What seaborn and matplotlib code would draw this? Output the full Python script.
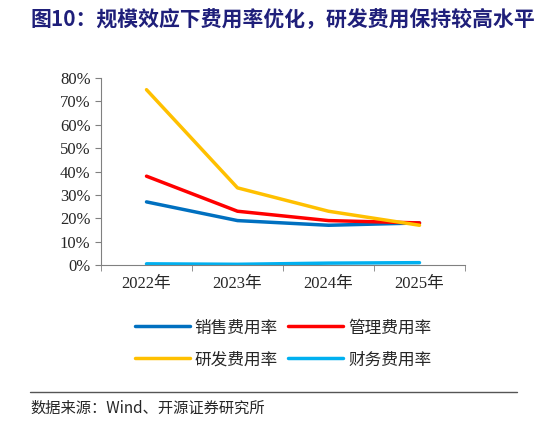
import numpy as np
import pandas as pd
import matplotlib
matplotlib.use('Agg')
import matplotlib.pyplot as plt
import seaborn as sns

years = ['2022年', '2023年', '2024年', '2025年']
sales = [27, 19, 17, 18]
admin = [38, 23, 19, 18]
rnd = [75, 33, 23, 17]
fin = [0.5, 0.3, 0.8, 1.0]

names = ['销售费用率', '管理费用率', '研发费用率', '财务费用率']
colors = ['#0070C0', '#FF0000', '#FFC000', '#00B0F0']

df = pd.DataFrame({'year': years * 4,
                   'value': sales + admin + rnd + fin,
                   'series': [n for n in names for _ in years]})

sns.set_style('white')
plt.rcParams['font.family'] = ['Noto Sans CJK SC', 'DejaVu Sans']

fig = plt.figure(figsize=(5.46, 4.22), dpi=100)
ax = fig.add_axes([101 / 546, 1 - 265 / 422, 364 / 546, 187 / 422])

sns.lineplot(data=df, x='year', y='value', hue='series', palette=colors,
             hue_order=names, linewidth=2.5, ax=ax, sort=False)

ax.set_xlim(-0.5, 3.5)
ax.set_ylim(0, 80)
ax.set_yticks(range(0, 81, 10))
ax.set_yticklabels([f'{v}%' for v in range(0, 81, 10)],
                   fontfamily='Liberation Serif', fontsize=12)
ax.set_xticks(range(4))
ax.set_xticklabels(years, fontsize=12, fontfamily=['Liberation Serif', 'Noto Sans CJK SC'])
ax.tick_params(axis='x', pad=8)
ax.set_xlabel('')
ax.set_ylabel('')
for s in ['top', 'right']:
    ax.spines[s].set_visible(False)
for s in ['left', 'bottom']:
    ax.spines[s].set_color('#808080')
ax.tick_params(axis='y', left=True, length=4, color='#808080')
ax.set_xticks([-0.5, 0.5, 1.5, 2.5, 3.5], minor=True)
ax.tick_params(axis='x', which='major', length=0)
ax.tick_params(axis='x', which='minor', bottom=True, length=4, color='#808080')

# row-wise legend order: matplotlib fills columns first
handles, labels = ax.get_legend_handles_labels()
order = [0, 2, 1, 3]
ax.legend([handles[i] for i in order], [labels[i] for i in order],
          frameon=False, ncol=2, loc='upper center', bbox_to_anchor=(0.5, -0.21),
          fontsize=12, handlelength=3.3, columnspacing=0.6, handletextpad=0.3,
          labelspacing=0.9)

fig.text(30 / 546, 1 - 19 / 422, '图10：规模效应下费用率优化，研发费用保持较高水平',
         fontsize=15, fontweight='bold', color='#1F1F7A', va='center')
fig.add_artist(plt.Line2D([30 / 546, 517 / 546], [1 - 392 / 422] * 2,
                          color='#555555', linewidth=1))
fig.text(30 / 546, 1 - 408 / 422, '数据来源：Wind、开源证券研究所',
         fontsize=11, va='center')

fig.savefig('out.png', dpi=100)
